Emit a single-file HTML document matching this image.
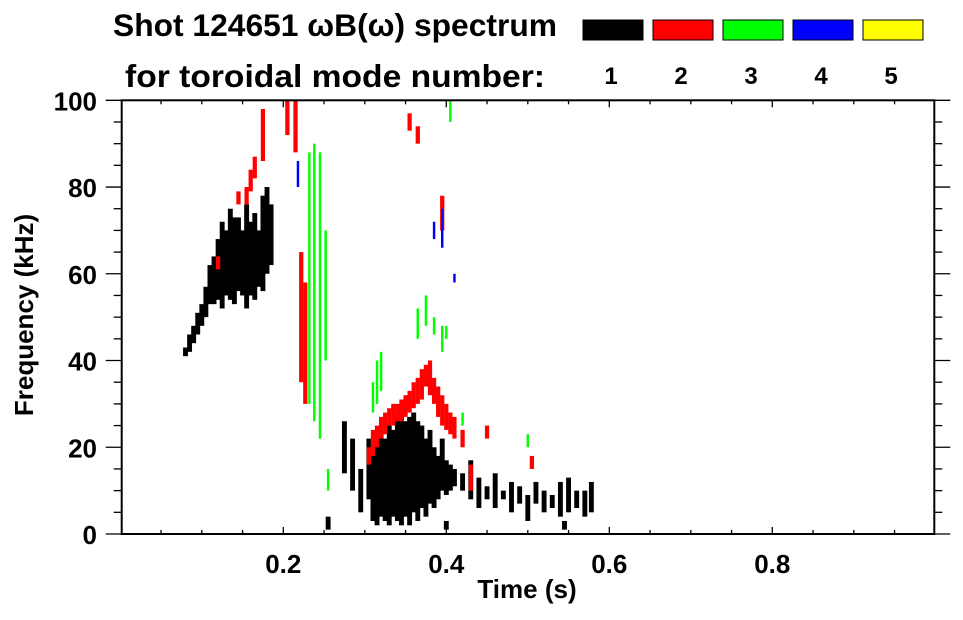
<!DOCTYPE html>
<html><head><meta charset="utf-8"><style>
body{margin:0;background:#fff;}
svg text{font-family:"Liberation Sans",Arial,sans-serif;font-weight:bold;fill:#000;}
</style></head><body>
<svg id="chart" width="963" height="615" viewBox="0 0 963 615">
<text x="113" y="36" font-size="31.5" textLength="444" lengthAdjust="spacingAndGlyphs">Shot 124651 ωB(ω) spectrum</text>
<text x="125" y="87" font-size="31.5" textLength="420" lengthAdjust="spacingAndGlyphs">for toroidal mode number:</text>
<g id="legend"></g>
<g id="marks"></g>
<rect x="121.7" y="100.3" width="812.6" height="433.7" fill="none" stroke="#000" stroke-width="2"/>
<g id="axes"></g>
<text x="527" y="598" font-size="26" text-anchor="middle">Time (s)</text>
<text transform="translate(33,315) rotate(-90)" font-size="26" text-anchor="middle">Frequency (kHz)</text>
</svg>
<script>
const modes=[1,2,3,4,5];
const modeColors=["#000000","#ff0000","#00ff00","#0000ff","#ffff00"];
const xTicks=[0.2,0.4,0.6,0.8];
const yTicks=[0,20,40,60,80,100];
// columns: [time, fLow, fHigh]
const mode1=[[0.080,41,43],[0.085,42,46],[0.090,44,48],[0.095,46,51],[0.100,48,53],[0.105,50,57],[0.110,53,62],[0.115,53,64],[0.120,54,68],[0.125,52,72],[0.130,55,70],[0.135,54,75],[0.140,53,73],[0.145,56,73],[0.150,55,70],[0.155,52,76],[0.160,55,72],[0.165,54,74],[0.170,57,70],[0.175,56,78],[0.180,60,80],[0.185,62,76],
[0.275,14,26],[0.285,10,22],[0.295,5,15],[0.305,8,22],[0.310,3,18],[0.315,2,21],[0.320,4,23],[0.325,3,22],[0.330,2,25],[0.335,4,24],[0.340,3,27],[0.345,2,28],[0.350,4,26],[0.355,2,27],[0.360,5,28],[0.365,3,26],[0.370,6,25],[0.375,4,22],[0.380,7,24],[0.385,6,20],[0.390,8,18],[0.395,10,22],[0.400,9,17],[0.405,10,16],[0.410,11,15],[0.420,10,14],[0.430,8,17],[0.440,6,13],[0.450,8,11],[0.460,6,14],[0.470,8,10],[0.480,5,12],[0.490,7,11],[0.500,3,9],[0.510,7,12],[0.520,5,10],[0.530,6,9],[0.540,4,12],[0.550,5,13],[0.560,6,10],[0.570,4,10],[0.578,5,12],[0.255,1,4],[0.400,1,3],[0.545,1,3]];
const mode2=[[0.120,61,64],[0.145,76,79],[0.155,76,80],[0.160,79,84],[0.165,82,87],[0.175,86,98],[0.205,92,100],[0.215,88,100],[0.222,35,65],[0.227,30,58],
[0.305,16,20],[0.310,18,24],[0.315,20,25],[0.320,22,27],[0.325,23,28],[0.330,25,29],[0.335,25,30],[0.340,26,30],[0.345,26,31],[0.350,27,32],[0.355,28,33],[0.360,29,35],[0.365,30,36],[0.370,31,38],[0.375,34,39],[0.380,32,40],[0.385,30,36],[0.390,27,34],[0.395,25,32],[0.400,24,30],[0.405,23,28],[0.410,22,27],[0.420,20,24],[0.430,10,16],[0.355,93,97],[0.365,90,94],[0.395,70,78],[0.450,22,25],[0.505,15,18]];
const mode3=[[0.232,30,88],[0.238,26,90],[0.245,22,88],[0.252,40,70],[0.255,10,15],[0.310,28,35],[0.315,30,40],[0.320,33,42],[0.365,45,52],[0.375,48,55],[0.385,46,50],[0.395,42,48],[0.400,45,48],[0.405,95,100],[0.420,25,28],[0.500,20,23]];
const mode4=[[0.218,80,86],[0.385,68,72],[0.395,66,75],[0.410,58,60]];
const mode5=[];
const seriesData=[mode1,mode2,mode3,mode4,mode5];
const X0=120.3,XS=815,Y0=534,YS=4.337;
const xs=t=>X0+t*XS, ys=f=>Y0-f*YS;
const NS="http://www.w3.org/2000/svg";
function mk(tag,attrs,parent){const e=document.createElementNS(NS,tag);for(const k in attrs)e.setAttribute(k,attrs[k]);parent.appendChild(e);return e;}
const marks=document.getElementById('marks');
seriesData.forEach((ser,i)=>{
  const hw=i===0?0.003:(i===1?0.0026:0.0015);
  ser.forEach(c=>{
    const r=mk('rect',{x:xs(c[0]-hw),y:ys(c[2]),width:xs(c[0]+hw)-xs(c[0]-hw),height:ys(c[1])-ys(c[2]),fill:modeColors[i]},marks);
    
    
  });
});
const leg=document.getElementById('legend');
modes.forEach((m,i)=>{
  const bx=583+i*70;
  const r=mk('rect',{x:bx,y:20,width:60,height:20,fill:modeColors[i],stroke:'#000','stroke-width':1},leg);
  
  
  const t=mk('text',{x:bx+28,y:84,'font-size':24,'text-anchor':'middle'},leg);t.textContent=m;
  
  
});
const ax=document.getElementById('axes');
for(let t=0.05;t<1;t+=0.05){
  const maj=Math.abs(t*5-Math.round(t*5))<1e-6;const L=maj?7:4;const x=xs(t);
  mk('line',{x1:x,x2:x,y1:534,y2:534-L,stroke:'#000','stroke-width':1.3},ax);
  mk('line',{x1:x,x2:x,y1:100.3,y2:100.3+L,stroke:'#000','stroke-width':1.3},ax);
}
for(let f=0;f<=100;f+=5){
  const maj=f%20===0;const L=maj?16:8;const y=ys(f);
  mk('line',{x1:121.7-L,x2:121.7,y1:y,y2:y,stroke:'#000','stroke-width':1.3},ax);
  mk('line',{x1:934.3,x2:934.3+L,y1:y,y2:y,stroke:'#000','stroke-width':1.3},ax);
}
xTicks.forEach(v=>{const t=mk('text',{x:xs(v),y:573,'font-size':26,'text-anchor':'middle'},ax);t.textContent=v.toFixed(1);
  
  });
yTicks.forEach(v=>{const t=mk('text',{x:97,y:ys(v)+10,'font-size':26,'text-anchor':'end'},ax);t.textContent=v;
  
  });
</script>
</body></html>
